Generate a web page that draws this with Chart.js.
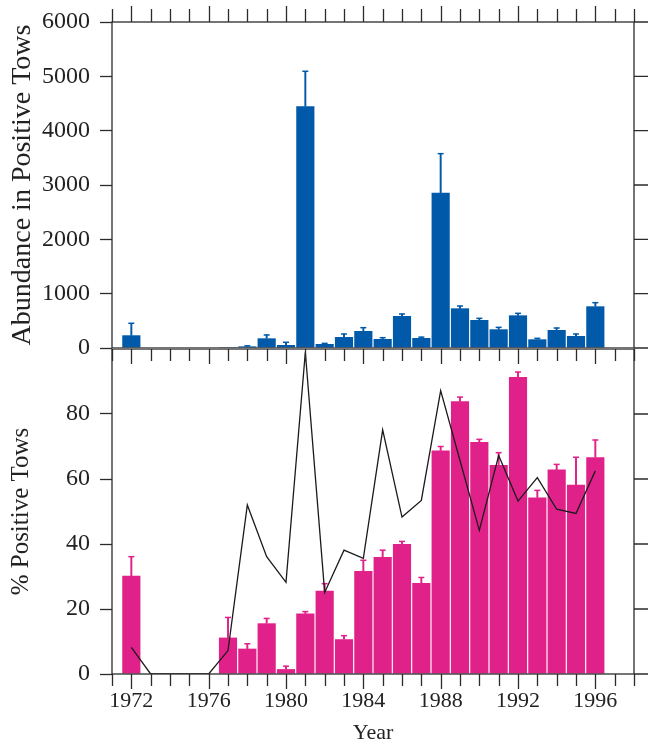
<!DOCTYPE html>
<html>
<head>
<meta charset="utf-8">
<script src="https://cdn.jsdelivr.net/npm/chart.js@4.4.1/dist/chart.umd.min.js"></script>
<style>
  html, body { margin: 0; padding: 0; background: #fff; }
  #wrap { position: relative; width: 650px; height: 742px; }
  canvas { position: absolute; left: 0; }
  #topChart { top: 0; }
  #botChart { top: 349px; }
</style>
</head>
<body>
<div id="wrap">
  <canvas id="topChart" width="650" height="362"></canvas>
  <canvas id="botChart" width="650" height="393"></canvas>
</div>
<script>
// ── data ─────────────────────────────────────────────────
const years = [1972, 1973, 1974, 1975, 1976, 1977, 1978, 1979, 1980, 1981, 1982, 1983, 1984,
               1985, 1986, 1987, 1988, 1989, 1990, 1991, 1992, 1993, 1994, 1995, 1996];
const abundance    = [234, null, null, null, null, 15, 30, 178, 55, 4450, 74, 202, 313,
                      166, 589, 184, 2859, 730, 515, 344, 601, 160, 331, 221, 767];
const abundanceErr = [455, null, null, null, null, null, 40, 240, 105, 5093, 85, 258, 374,
                      190, 626, 200, 3577, 773, 546, 380, 638, 178, 368, 258, 834];
const pctPositive  = [30.2, null, null, null, null, 11.2, 7.8, 15.6, 1.5, 18.6, 25.6, 10.7, 31.7,
                      36.0, 40.0, 28.0, 68.8, 83.9, 71.4, 64.3, 91.4, 54.3, 62.9, 58.2, 66.7];
const pctErr       = [36.1, null, null, null, null, 17.4, 9.3, 17.1, 2.4, 19.2, 27.8, 11.8, 35.0,
                      38.1, 40.8, 29.7, 70.0, 85.2, 72.2, 68.1, 92.9, 56.5, 64.5, 66.7, 72.0];
const lineIndex    = [8.2, 0, 0, 0, 0, 7.2, 52.0, 36.1, 28.2, 99, 25.1, 38.1, 35.6,
                      75.1, 48.3, 53.4, 87.2, 65.7, 44.2, 67.2, 53.2, 60.4, 50.7, 49.4, 62.5];
const xTicks    = [1972, 1976, 1980, 1984, 1988, 1992, 1996];
const topYTicks = [0, 1000, 2000, 3000, 4000, 5000, 6000];
const botYTicks = [0, 20, 40, 60, 80];

const BLUE = '#0059a9', PINK = '#e0218a', INK = '#2b2b2b';
const SERIF = "'Liberation Serif', 'Times New Roman', serif";
const X_MIN = 1971, X_MAX = 1998;

const pts = (arr) => years.map((yr, i) => ({ x: yr, y: arr[i] }));
const stems = (v, e) => years.map((yr, i) => ({ x: yr, y: e[i] == null ? null : [v[i], e[i]] }));
const noPad = (s) => { s.paddingTop = s.paddingBottom = s.paddingLeft = s.paddingRight = 0; };

// frame + hand ticks (year ticks on top/bottom edges, y ticks on right edge)
const frame = (edges) => ({
  id: 'frame',
  afterDraw(chart) {
    const { ctx, chartArea: a, scales } = chart;
    ctx.save();
    ctx.strokeStyle = INK;
    ctx.lineWidth = 1.3;
    ctx.strokeRect(a.left, a.top, a.right - a.left, a.bottom - a.top);
    ctx.beginPath();
    for (let yr = X_MIN; yr <= X_MAX; yr++) {
      const px = Math.round(scales.x.getPixelForValue(yr)) + 0.5;
      edges.forEach(([edge, dir, big, small]) => {
        const len = yr % 4 === 0 ? big : small;
        const ey = edge === 'top' ? a.top : a.bottom;
        ctx.moveTo(px, ey);
        ctx.lineTo(px, ey + dir * len);
      });
    }
    scales.y.ticks.forEach((t) => {
      const py = scales.y.getPixelForValue(t.value);
      ctx.moveTo(a.right, py);
      ctx.lineTo(a.right + 14, py);
    });
    ctx.stroke();
    ctx.restore();
  },
});

const yAxis = (max, ticks, title, titleSize) => ({
  min: 0, max,
  afterBuildTicks: (s) => { s.ticks = ticks.map((v) => ({ value: v })); },
  afterFit: (s) => { s.width = 112; noPad(s); },
  ticks: { color: '#222', padding: 10, font: { family: SERIF, size: 24 },
           callback: (v) => String(v) },
  grid: { drawOnChartArea: false, tickLength: 12, tickColor: INK, tickWidth: 1.3 },
  border: { display: false },
  title: { display: true, text: title, color: '#222', padding: { top: 6, bottom: 0 },
           font: { family: SERIF, size: titleSize } },
});

const common = {
  responsive: false,
  animation: false,
  plugins: { legend: { display: false }, tooltip: { enabled: false } },
};

// ── top: abundance in positive tows ───────────────────────
new Chart(document.getElementById('topChart'), {
  type: 'bar',
  data: {
    datasets: [
      { data: pts(abundance), backgroundColor: BLUE, grouped: false,
        barPercentage: 0.94, categoryPercentage: 1, order: 2 },
      { data: stems(abundance, abundanceErr), backgroundColor: BLUE, grouped: false,
        barThickness: 1.3, order: 1 },
      { type: 'line', data: pts(abundanceErr), showLine: false, pointStyle: 'line',
        pointRadius: 3, pointBorderColor: BLUE, pointBorderWidth: 1.5, order: 0 },
    ],
  },
  options: {
    ...common,
    layout: { autoPadding: false, padding: { top: 22, right: 16, bottom: 14, left: 0 } },
    scales: {
      x: { type: 'linear', min: X_MIN, max: X_MAX, offset: false, display: false },
      y: yAxis(6000, topYTicks, 'Abundance in Positive Tows', 28),
    },
  },
  plugins: [frame([['top', -1, 16, 13]])],
});

// ── bottom: % positive tows ───────────────────────────────
new Chart(document.getElementById('botChart'), {
  type: 'bar',
  data: {
    datasets: [
      { data: pts(pctPositive), backgroundColor: PINK, grouped: false,
        barPercentage: 0.94, categoryPercentage: 1, order: 3 },
      { data: stems(pctPositive, pctErr), backgroundColor: PINK, grouped: false,
        barThickness: 1.3, order: 2 },
      { type: 'line', data: pts(pctErr), showLine: false, pointStyle: 'line',
        pointRadius: 3, pointBorderColor: PINK, pointBorderWidth: 1.5, order: 1 },
      { type: 'line', data: pts(lineIndex), borderColor: '#1a1a1a', borderWidth: 1.3,
        pointRadius: 0, tension: 0, fill: false, order: 0 },
    ],
  },
  options: {
    ...common,
    layout: { autoPadding: false, padding: { top: 0, right: 16, bottom: 0, left: 0 } },
    scales: {
      x: {
        type: 'linear', min: X_MIN, max: X_MAX, offset: false, position: 'bottom',
        afterBuildTicks: (s) => { s.ticks = xTicks.map((v) => ({ value: v })); },
        afterFit: (s) => { s.height = 68; noPad(s); },
        ticks: { color: '#222', padding: 14, maxRotation: 0, autoSkip: false,
                 font: { family: SERIF, size: 22 }, callback: (v) => String(v) },
        grid: { display: false, drawTicks: false },
        border: { display: false },
        title: { display: true, text: 'Year', color: '#222', padding: { top: 0, bottom: 0 },
                 font: { family: SERIF, size: 22, lineHeight: 0.8 } },
      },
      y: yAxis(100, botYTicks, '% Positive Tows', 25),
    },
  },
  plugins: [frame([['top', 1, 15, 12], ['bottom', 1, 15, 12]])],
});
</script>
</body>
</html>
